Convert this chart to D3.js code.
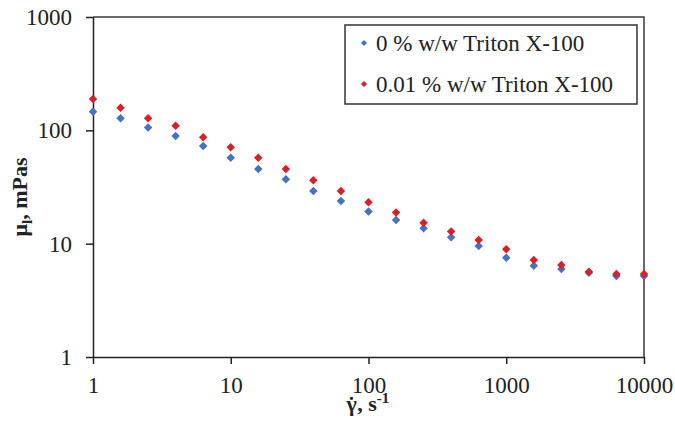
<!DOCTYPE html>
<html>
<head>
<meta charset="utf-8">
<script src="https://d3js.org/d3.v7.min.js"></script>
<style>
    body { margin: 0; background: #fff; }
    text { font-family: "Liberation Serif", "Times New Roman", serif; fill: #222; }
</style>
</head>
<body>
<svg id="drawing_region"></svg>
<script>
const shear_rate = [1, 1.585, 2.512, 3.981, 6.31, 10, 15.85, 25.12, 39.81, 63.1, 100,
    158.5, 251.2, 398.1, 631, 1000, 1585, 2512, 3981, 6310, 10000];
const visc_0 = [146, 128, 106, 89, 72.8, 57.4, 45.6, 37, 29.2, 23.8, 19.2,
    16.2, 13.7, 11.4, 9.55, 7.53, 6.4, 5.98, 5.55, 5.19, 5.19];
const visc_001 = [189, 158, 128, 110, 87, 71, 57.4, 45.6, 36.3, 29.2, 23.2,
    18.8, 15.3, 12.8, 10.8, 8.92, 7.18, 6.49, 5.66, 5.4, 5.4];
const series_names = ['0 % w/w Triton X-100', '0.01 % w/w Triton X-100'];
const x_ticks = [1, 10, 100, 1000, 10000];
const y_ticks = [1, 10, 100, 1000];

const colors = ['#4472C4', '#DA1F26'];

var config = {
    parent: '#drawing_region',
    width: 675,
    height: 429,
    margin: { top: 17, right: 31, bottom: 72, left: 93 }
};

let self = {};
self.svg = d3.select(config.parent)
    .attr('width', config.width)
    .attr('height', config.height);

self.inner_width = config.width - config.margin.left - config.margin.right;
self.inner_height = config.height - config.margin.top - config.margin.bottom;

self.chart = self.svg.append('g')
    .attr('transform', `translate(${config.margin.left}, ${config.margin.top})`);

self.xscale = d3.scaleLog()
    .domain([1, 10000])
    .range([0, self.inner_width]);

self.yscale = d3.scaleLog()
    .domain([1, 1000])
    .range([self.inner_height, 0]);

// frame (top and right)
self.chart.append('path')
    .attr('d', `M0,0H${self.inner_width}V${self.inner_height}`)
    .attr('fill', 'none')
    .attr('stroke', '#3a3a3a')
    .attr('stroke-width', 1.5);

self.xaxis = d3.axisBottom(self.xscale)
    .tickValues(x_ticks)
    .tickFormat(d3.format('d'))
    .tickSizeInner(7)
    .tickSizeOuter(0)
    .tickPadding(13);

self.yaxis = d3.axisLeft(self.yscale)
    .tickValues(y_ticks)
    .tickFormat(d3.format('d'))
    .tickSizeInner(7)
    .tickSizeOuter(0)
    .tickPadding(14);

self.xaxis_group = self.chart.append('g')
    .attr('transform', `translate(0, ${self.inner_height})`)
    .call(self.xaxis);

self.yaxis_group = self.chart.append('g')
    .call(self.yaxis);

self.chart.selectAll('.domain, .tick line')
    .attr('stroke', '#222')
    .attr('stroke-width', 1.5);

self.chart.selectAll('.tick text')
    .attr('font-family', '"Liberation Serif", serif')
    .attr('font-size', 23)
    .attr('fill', '#222');

// axis titles (dot over gamma kept inside the same text element)
self.xaxis_title = self.chart.append('text')
    .attr('x', self.inner_width / 2 - 22)
    .attr('y', self.inner_height + 54)
    .attr('font-size', 22)
    .attr('font-weight', 'bold');
self.xaxis_title.append('tspan').text('\u03B3');
self.xaxis_title.append('tspan').attr('dx', -9).attr('dy', 1).text('\u02D9');
self.xaxis_title.append('tspan').attr('dx', 2).attr('dy', -1).text(', s');
self.xaxis_title.append('tspan').attr('dy', -8).attr('font-size', 15).text('-1');

self.yaxis_title = self.chart.append('text')
    .attr('transform', `translate(-66, ${self.inner_height / 2 + 10}) rotate(-90)`)
    .attr('text-anchor', 'middle')
    .attr('font-size', 22)
    .attr('font-weight', 'bold');
self.yaxis_title.append('tspan').text('\u03BC');
self.yaxis_title.append('tspan').attr('dy', 5).attr('font-size', 15).text('l');
self.yaxis_title.append('tspan').attr('dy', -5).text(', mPas');

// points
const diamond = d3.symbol().type(d3.symbolDiamond2).size(46);
const all_series = [visc_0, visc_001];
all_series.forEach((vals, i) => {
    self.chart.append('g')
        .selectAll('path')
        .data(shear_rate.map((x, j) => ({ x: x, y: vals[j] })))
        .enter()
        .append('path')
        .attr('d', diamond)
        .attr('fill', colors[i])
        .attr('transform', d => `translate(${self.xscale(d.x)}, ${self.yscale(d.y)})`);
});

// legend
self.legend = self.chart.append('g')
    .attr('transform', `translate(252, 8)`);
self.legend.append('rect')
    .attr('width', 292)
    .attr('height', 79)
    .attr('fill', '#fff')
    .attr('stroke', '#333')
    .attr('stroke-width', 1.5);
const legend_symbol = d3.symbol().type(d3.symbolDiamond2).size(24);
series_names.forEach((name, i) => {
    const row = self.legend.append('g')
        .attr('transform', `translate(19, ${18 + i * 41})`);
    row.append('path')
        .attr('d', legend_symbol)
        .attr('fill', colors[i]);
    row.append('text')
        .attr('x', 12)
        .attr('y', 8)
        .attr('font-size', 23)
        .text(name);
});
</script>
</body>
</html>
